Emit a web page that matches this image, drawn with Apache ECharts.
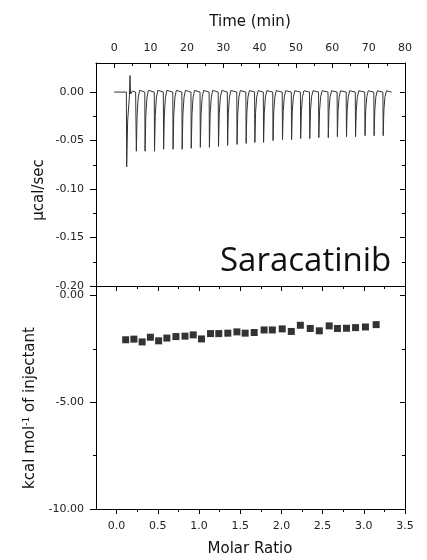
<!DOCTYPE html>
<html><head><meta charset="utf-8">
<script src="https://cdn.jsdelivr.net/npm/echarts@6/dist/echarts.min.js"></script>
<style>html,body{margin:0;padding:0;background:#fff}#c{width:427px;height:560px}</style>
</head><body><div id="c"></div>
<script>
// ---- data ----
// injections 2..29 : time of the minimum (min) and depth (µcal/sec)
const injTime = [6.1, 8.5, 11.1, 13.6, 16.2, 18.7, 21.2, 23.7, 26.2, 28.7, 31.2, 33.8, 36.3, 38.7,
                 41.1, 43.7, 46.3, 48.8, 51.3, 53.8, 56.3, 58.9, 61.4, 63.9, 66.4, 69.0, 71.5, 74.0];
const injPeak = [-0.061, -0.061, -0.061, -0.059, -0.059, -0.059, -0.058, -0.057, -0.057, -0.056, -0.055, -0.054, -0.053, -0.052,
                 -0.052, -0.050, -0.049, -0.049, -0.048, -0.048, -0.047, -0.047, -0.046, -0.046, -0.046, -0.045, -0.045, -0.045];
// first injection trace (time, power)
const firstInjection = [[3.35, 0], [3.44, -0.077], [3.7, -0.03], [4.2, -0.004], [4.35, 0.017], [4.5, -0.002], [5.0, 0.001], [5.9, 0]];
// peak shape template (time offset, fraction of depth)
const spikeDt = [-0.08, 0, 0.2, 0.5, 0.9, 1.4];
const spikeFrac = [0, 1, 0.4, 0.1, -0.03, 0];
const baseStart = 0, baseEnd = 76.3;

const molarRatio = [0.11, 0.21, 0.31, 0.41, 0.51, 0.61, 0.72, 0.83, 0.93, 1.03, 1.14, 1.24, 1.35, 1.46, 1.56, 1.67,
                    1.79, 1.89, 2.01, 2.12, 2.23, 2.35, 2.46, 2.58, 2.68, 2.79, 2.90, 3.02, 3.15];
const heat = [-2.07, -2.04, -2.17, -1.95, -2.12, -1.99, -1.92, -1.90, -1.84, -2.03, -1.78, -1.78, -1.76, -1.70, -1.76, -1.73,
              -1.61, -1.61, -1.56, -1.68, -1.39, -1.54, -1.65, -1.42, -1.54, -1.53, -1.50, -1.47, -1.36];

// tick values
const timeMajor = [0, 10, 20, 30, 40, 50, 60, 70, 80];
const timeMinor = [5, 15, 25, 35, 45, 55, 65, 75];
const powerMajor = [0, -0.05, -0.10, -0.15, -0.20];
const powerMinor = [-0.025, -0.075, -0.125, -0.175];
const ratioMajor = [0, 0.5, 1.0, 1.5, 2.0, 2.5, 3.0, 3.5];
const ratioMinor = [0.25, 0.75, 1.25, 1.75, 2.25, 2.75, 3.25];
const heatMajor = [0, -5, -10];
const heatMinor = [-2.5, -7.5];

// ---- build ----
const trace = [[baseStart, 0]];
firstInjection.forEach(p => trace.push(p));
for (let i = 0; i < injTime.length; i++) {
  for (let k = 0; k < spikeDt.length; k++) trace.push([injTime[i] + spikeDt[k], injPeak[i] * spikeFrac[k]]);
}
trace.push([baseEnd, 0]);
const points = molarRatio.map((x, i) => [x, heat[i]]);

const FONT = 'DejaVu Sans';
function mk(grid, pos, min, max, ticks, len, inside, lineShow, label) {
  return {
    type: 'value', gridIndex: grid, position: pos, min: min, max: max, silent: true,
    splitLine: { show: false }, axisPointer: { show: false },
    axisLine: { show: lineShow, onZero: false, lineStyle: { color: '#000', width: 1 } },
    axisTick: { show: true, customValues: ticks, length: len, inside: inside, lineStyle: { color: '#000', width: 1 } },
    axisLabel: label ? Object.assign({ show: true, customValues: ticks, color: '#222', fontFamily: FONT, fontSize: 11 }, label) : { show: false }
  };
}

const chart = echarts.init(document.getElementById('c'), null, { renderer: 'canvas' });
chart.setOption({
  animation: false,
  backgroundColor: '#fff',
  grid: [
    { left: 96, top: 63, width: 309, height: 223, containLabel: false, outerBoundsMode: 'none' },
    { left: 96, top: 286, width: 309, height: 223, containLabel: false, outerBoundsMode: 'none' }
  ],
  xAxis: [
    mk(0, 'top', -5, 80, timeMajor, 5, true, true, { margin: 9, formatter: v => String(v) }),
    mk(0, 'top', -5, 80, timeMinor, 3, true, false, null),
    mk(0, 'bottom', -5, 80, [], 0, true, true, null),
    mk(1, 'bottom', -0.25, 3.5, ratioMajor, 5, false, true, { margin: 12, formatter: v => v.toFixed(1) }),
    mk(1, 'bottom', -0.25, 3.5, ratioMinor, 3, false, false, null),
    mk(1, 'top', -0.25, 3.5, ratioMajor, 5, true, true, null),
    mk(1, 'top', -0.25, 3.5, ratioMinor, 3, true, false, null)
  ],
  yAxis: [
    mk(0, 'left', -0.2, 0.03, powerMajor, 6, false, true, { margin: 12, formatter: v => v.toFixed(2) }),
    mk(0, 'left', -0.2, 0.03, powerMinor, 3, false, false, null),
    mk(0, 'right', -0.2, 0.03, powerMajor, 5, true, true, null),
    mk(0, 'right', -0.2, 0.03, powerMinor, 3, true, false, null),
    mk(1, 'left', -10, 0.45, heatMajor, 6, false, true, { margin: 12, formatter: v => v.toFixed(2) }),
    mk(1, 'left', -10, 0.45, heatMinor, 3, false, false, null),
    mk(1, 'right', -10, 0.45, heatMajor, 5, true, true, null),
    mk(1, 'right', -10, 0.45, heatMinor, 3, true, false, null)
  ],
  series: [
    { type: 'line', xAxisIndex: 0, yAxisIndex: 0, data: trace, showSymbol: false, symbol: 'none',
      lineStyle: { color: '#333', width: 1 }, silent: true },
    { type: 'scatter', xAxisIndex: 3, yAxisIndex: 4, data: points, symbol: 'rect', symbolSize: 7,
      itemStyle: { color: '#000' }, silent: true }
  ],
  graphic: [
    { type: 'text', x: 250, y: 22, style: { text: 'Time (min)', fontFamily: FONT, fontSize: 15, fill: '#111', align: 'center', verticalAlign: 'middle', textAlign: 'center', textVerticalAlign: 'middle' } },
    { type: 'text', x: 250, y: 549, style: { text: 'Molar Ratio', fontFamily: FONT, fontSize: 15, fill: '#111', align: 'center', verticalAlign: 'middle', textAlign: 'center', textVerticalAlign: 'middle' } },
    { type: 'text', x: 39, y: 190, rotation: Math.PI / 2, style: { text: 'μcal/sec', fontFamily: FONT, fontSize: 15, fill: '#111', align: 'center', verticalAlign: 'middle', textAlign: 'center', textVerticalAlign: 'middle' } },
    { type: 'text', x: 30, y: 408, rotation: Math.PI / 2, style: { text: 'kcal mol{sup|-1} of injectant', fontFamily: FONT, fontSize: 15, fill: '#111', align: 'center', verticalAlign: 'middle', textAlign: 'center', textVerticalAlign: 'middle',
        rich: { sup: { fontFamily: FONT, fontSize: 9, fill: '#111', verticalAlign: 'top' } } } },
    { type: 'text', x: 220, y: 262, style: { text: 'Saracatinib', fontFamily: 'Open Sans', fontSize: 33, fill: '#111', align: 'left', verticalAlign: 'middle', textAlign: 'left', textVerticalAlign: 'middle' } }
  ]
});
</script>
</body></html>
